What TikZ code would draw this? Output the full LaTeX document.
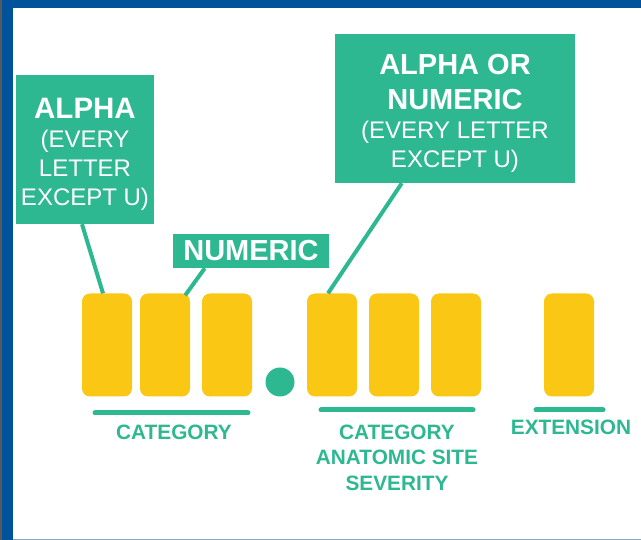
\documentclass[tikz,border=0pt]{standalone}
\usepackage{fontspec}
\setmainfont{Liberation Sans}
\usepackage{xcolor}
\usetikzlibrary{positioning, calc}
\definecolor{codegreen}{RGB}{46,184,146}
\definecolor{slotyellow}{RGB}{250,199,20}
\definecolor{frameblue}{RGB}{0,82,155}

\begin{document}
\begin{tikzpicture}[
    x=1pt, y=-1pt,
    slot/.style={rectangle, fill=slotyellow, rounded corners=8pt, minimum width=50pt, minimum height=103pt, inner sep=0pt},
    tag/.style={rectangle, fill=codegreen, text=white, align=center, inner sep=0pt, font=\fontsize{24}{29}\selectfont},
    link/.style={draw=codegreen, line width=4pt},
    rule/.style={draw=codegreen, line width=5pt, line cap=round},
    caption/.style={text=codegreen, align=center, font=\bfseries\fontsize{20.8}{25.5}\selectfont}
]
    \useasboundingbox (0,0) rectangle (641,540);
    % Frame
    \fill[frameblue] (0,0) rectangle (641,8);
    \fill[gray!70!black] (0,0) rectangle (2,540);
    \fill[frameblue] (2,0) rectangle (13,540);
    \draw[frameblue!50, line width=1pt] (13,539.5) -- (641,539.5);

    % Code characters
    \node[slot] (slotA) at (107,345) {};
    \node[slot] (slotB) at (165,345) {};
    \node[slot] (slotC) at (227,345) {};
    \node[circle, fill=codegreen, minimum size=29pt, inner sep=0pt] (dot) at (280,382) {};
    \node[slot] (slotD) at (332,345) {};
    \node[slot] (slotE) at (394,345) {};
    \node[slot] (slotF) at (456,345) {};
    \node[slot] (slotG) at (569,345) {};

    % Tags
    \node[tag, minimum width=138pt, minimum height=149pt] (alpha) at (85,149.5)
        {\rule{0pt}{29pt}{\bfseries\fontsize{29.5}{29}\selectfont ALPHA}\\(EVERY\\LETTER\\EXCEPT U)};
    \node[tag, minimum width=156pt, minimum height=34pt, font=\bfseries\fontsize{29}{29}\selectfont] (numtag) at (251,251) {NUMERIC};
    \node[tag, minimum width=240pt, minimum height=149pt] (alnum) at (455,108.5)
        {\rule{0pt}{29pt}{\bfseries\fontsize{29}{35}\selectfont ALPHA OR}\\[6pt]{\bfseries\fontsize{29}{35}\selectfont NUMERIC}\\(EVERY LETTER\\EXCEPT U)};

    \draw[link] ($(alpha.south)+(-3,0)$) -- ($(slotA.north)+(-4,0)$);
    \draw[link] ($(numtag.south west)+(32,0)$) -- ($(slotB.north east)+(-5,2)$);
    \draw[link] ($(alnum.south west)+(67,0)$) -- ($(slotD.north)+(-4,0)$);

    % Groups
    \coordinate (catL) at (95,413);
    \coordinate (catR) at (248,413);
    \coordinate (siteL) at (321,410);
    \coordinate (siteR) at (473,410);
    \coordinate (extL) at (536,410);
    \coordinate (extR) at (603,410);
    \draw[rule] (catL) -- (catR);
    \draw[rule] (siteL) -- (siteR);
    \draw[rule] (extL) -- (extR);
    \node[caption] (catlabel) at (174,432) {CATEGORY};
    \node[caption] (sitelabel) at (397,457.5) {CATEGORY\\ANATOMIC SITE\\SEVERITY};
    \node[caption] (extlabel) at (571,427) {EXTENSION};
\end{tikzpicture}
\end{document}
